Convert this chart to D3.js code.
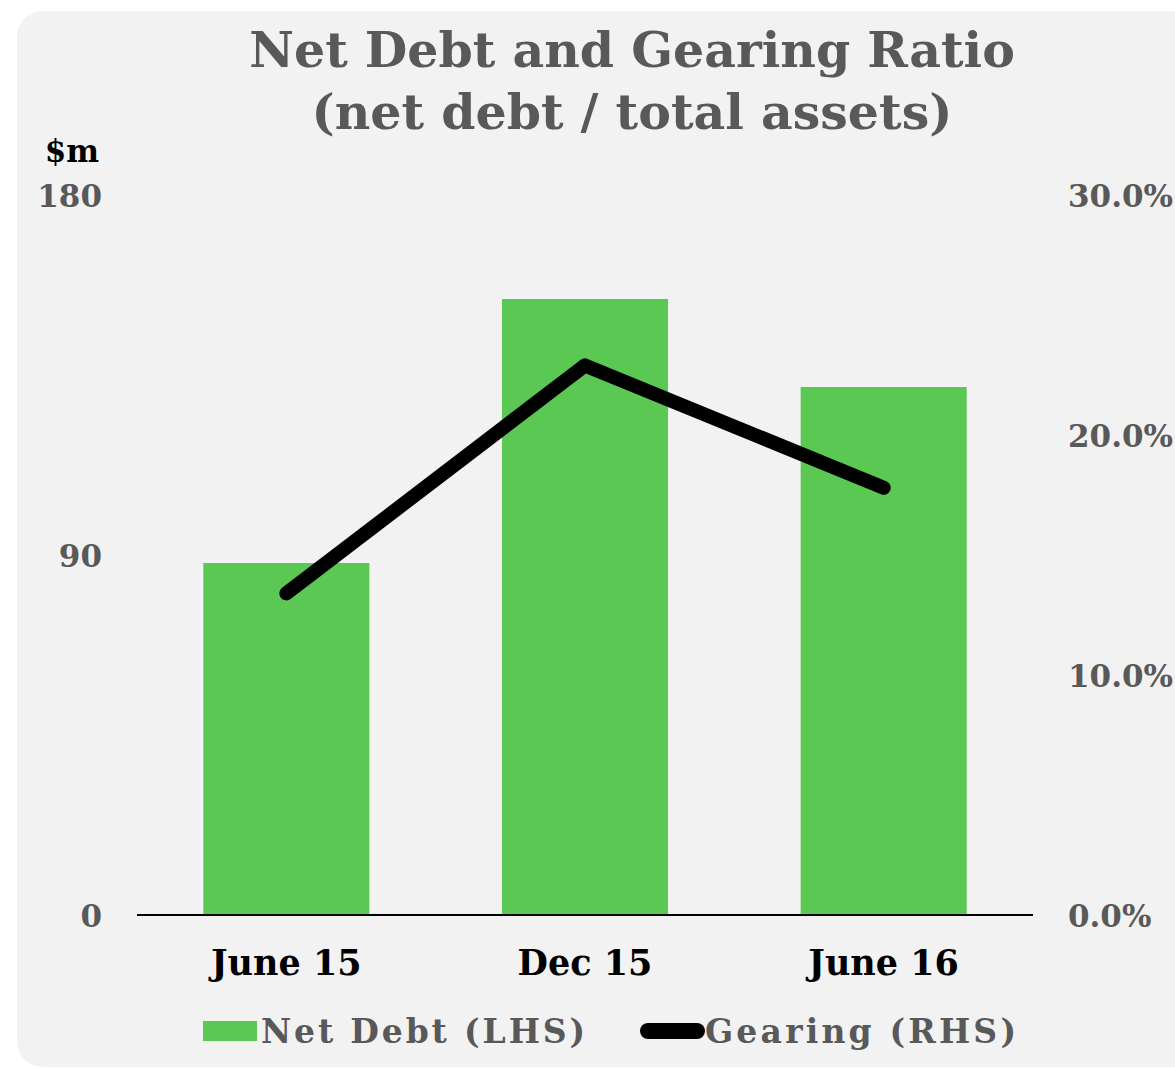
<!DOCTYPE html>
<html>
<head>
<meta charset="utf-8">
<script src="https://cdn.jsdelivr.net/npm/d3@7"></script>
<style>
  html, body { margin: 0; padding: 0; background: #ffffff; }
  svg { display: block; }
  text { font-family: "DejaVu Serif", serif; font-weight: bold; }
</style>
</head>
<body>
<div id="chart"></div>
<script>
// Chart data
const categories = ["June 15", "Dec 15", "June 16"];
const netDebt = [88, 154, 132];          // $m, left axis
const gearing = [13.4, 22.9, 17.8];      // %, right axis
const leftTicks = [0, 90, 180];
const rightTicks = [0, 10, 20, 30];
const titleLines = ["Net Debt and Gearing Ratio", "(net debt / total assets)"];
const legendLabels = ["Net Debt (LHS)", "Gearing (RHS)"];

const W = 1175, H = 1069;
const green = "#5bc853", grey = "#595959";

const svg = d3.select("#chart").append("svg")
  .attr("width", W).attr("height", H);

// Panel background
svg.append("rect")
  .attr("x", 17).attr("y", 11)
  .attr("width", W + 40).attr("height", 1056)
  .attr("rx", 26).attr("ry", 26)
  .attr("fill", "#f2f2f2");

// Title
svg.append("g").selectAll("text").data(titleLines).join("text")
  .attr("x", 632).attr("y", (d, i) => 67 + i * 62)
  .attr("text-anchor", "middle")
  .attr("font-size", 49)
  .attr("fill", grey)
  .text(d => d);

// Scales
const x = d3.scaleBand().domain(categories)
  .range([137, 1033]).paddingInner(0.444).paddingOuter(0.222);
const yL = d3.scaleLinear().domain([0, 180]).range([915, 195]);
const yR = d3.scaleLinear().domain([0, 30]).range([915, 195]);

// Bars
svg.append("g").selectAll("rect").data(categories).join("rect")
  .attr("x", d => x(d))
  .attr("y", (d, i) => yL(netDebt[i]))
  .attr("width", x.bandwidth())
  .attr("height", (d, i) => yL(0) - yL(netDebt[i]))
  .attr("fill", green);

// Left axis
const axL = svg.append("g").attr("transform", "translate(102,0)")
  .call(d3.axisLeft(yL).tickValues(leftTicks).tickSize(0).tickPadding(0));
axL.select(".domain").remove();
axL.selectAll("text")
  .attr("font-family", "DejaVu Serif").attr("font-weight", "bold")
  .attr("font-size", 31).attr("fill", grey).attr("dy", "0.37em");

svg.append("text").attr("x", 99).attr("y", 162)
  .attr("text-anchor", "end").attr("font-size", 31).attr("fill", "#000")
  .text("$m");

// Right axis
const axR = svg.append("g").attr("transform", "translate(1068,0)")
  .call(d3.axisRight(yR).tickValues(rightTicks).tickSize(0).tickPadding(0)
    .tickFormat(d => d3.format(".1f")(d) + "%"));
axR.select(".domain").remove();
axR.selectAll("text")
  .attr("font-family", "DejaVu Serif").attr("font-weight", "bold")
  .attr("font-size", 31).attr("fill", grey).attr("dy", "0.37em");

// Baseline
svg.append("line")
  .attr("x1", 137).attr("x2", 1033)
  .attr("y1", yL(0)).attr("y2", yL(0))
  .attr("stroke", "#000").attr("stroke-width", 2);

// Category labels
const axX = svg.append("g").attr("transform", `translate(0,${yL(0)})`)
  .call(d3.axisBottom(x).tickSize(0).tickPadding(0));
axX.select(".domain").remove();
axX.selectAll("text")
  .attr("font-family", "DejaVu Serif").attr("font-weight", "bold")
  .attr("font-size", 35).attr("fill", "#000").attr("dy", 0).attr("y", 60);

// Gearing line
const line = d3.line()
  .x((d, i) => x(categories[i]) + x.bandwidth() / 2)
  .y(d => yR(d));
svg.append("path").datum(gearing)
  .attr("d", line)
  .attr("fill", "none").attr("stroke", "#000")
  .attr("stroke-width", 14)
  .attr("stroke-linecap", "round").attr("stroke-linejoin", "round");

// Legend
const leg = svg.append("g");
leg.append("rect").attr("x", 203).attr("y", 1021).attr("width", 54).attr("height", 20).attr("fill", green);
leg.append("text").attr("x", 261).attr("y", 1043)
  .attr("font-size", 33).attr("fill", grey)
  .attr("textLength", 324).attr("lengthAdjust", "spacing")
  .text(legendLabels[0]);
leg.append("line").attr("x1", 648).attr("x2", 697).attr("y1", 1031).attr("y2", 1031)
  .attr("stroke", "#000").attr("stroke-width", 16).attr("stroke-linecap", "round");
leg.append("text").attr("x", 705).attr("y", 1043)
  .attr("font-size", 33).attr("fill", grey)
  .attr("textLength", 311).attr("lengthAdjust", "spacing")
  .text(legendLabels[1]);
</script>
</body>
</html>
